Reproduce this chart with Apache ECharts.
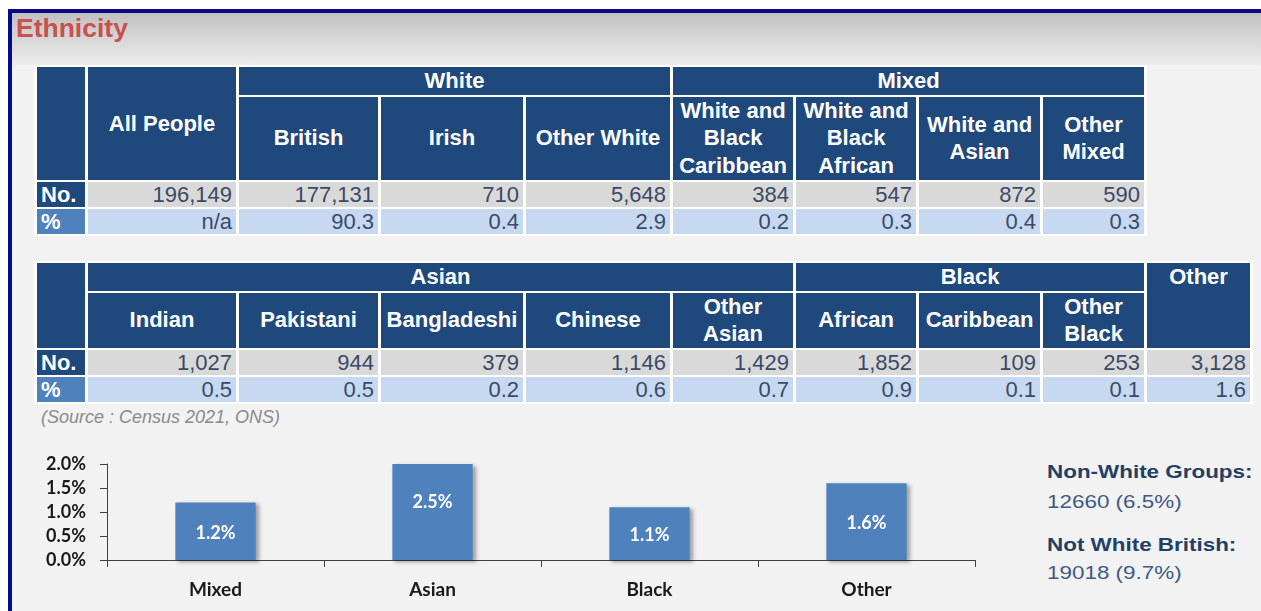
<!DOCTYPE html>
<html>
<head>
<meta charset="utf-8">
<script src="https://cdn.jsdelivr.net/npm/echarts@6/dist/echarts.min.js"></script>
<style>
html,body{margin:0;padding:0;width:1261px;height:611px;overflow:hidden;background:#fff;font-family:"Liberation Sans",Arial,sans-serif;}
#frame{position:absolute;left:8px;top:9px;width:1253px;height:602px;border-top:4px solid #0a0a88;border-left:4px solid #0a0a88;background:#f2f2f2;box-sizing:border-box;}
#header{position:absolute;left:12px;top:13px;width:1249px;height:52px;background:linear-gradient(#c1c1c1,#ededed);}
#title{position:absolute;left:16px;top:14px;font-size:26.5px;line-height:28px;font-weight:bold;color:#c9504d;}
table.t{position:absolute;left:34px;border-collapse:separate;border-spacing:3px 2px;background:#fff;table-layout:fixed;}
table.t th{background:#1f497d;color:#fff;font-weight:bold;font-size:22px;line-height:27.5px;padding:0;text-align:center;vertical-align:middle;overflow:hidden;}
table.t th.top{vertical-align:top;}
table.t td{font-size:22px;line-height:25px;padding:0 4px 0 0;text-align:right;color:#3a4a68;overflow:hidden;white-space:nowrap;}
table.t tr.no td{background:#d9d9d9;}
table.t tr.pc td{background:#c6d9f1;}
table.t td.lab{font-weight:bold;color:#fff;text-align:left;padding:0 0 0 4px;}
table.t tr.no td.lab{background:#1f497d;}
table.t tr.pc td.lab{background:#4f81bd;}
#source{position:absolute;left:41px;top:407px;font-size:18px;line-height:20px;font-style:italic;color:#8a8a8a;}
#chart{position:absolute;left:0;top:420px;width:1000px;height:191px;}
.note{position:absolute;left:1047px;font-size:19px;line-height:22px;transform:scaleX(1.18);transform-origin:left center;white-space:nowrap;}
.note.b{font-weight:bold;color:#243f66;}
.note.r{color:#3e5a86;}
</style>
</head>
<body>
<div id="frame"></div>
<div id="header"></div>
<div id="title">Ethnicity</div>
<table class="t" id="t1" style="top:65px"></table>
<table class="t" id="t2" style="top:261px"></table>
<div id="source">(Source : Census 2021, ONS)</div>
<div id="chart"></div>
<div id="notes"></div>
<script>
// ---------- data ----------
const allPeopleLabel = "All People";
const allPeopleCount = 196149;
const allPeoplePercent = "n/a";

const t1GroupNames = ["White", "Mixed"];
const t1GroupSpans = [3, 4];
const t1Categories = ["British", "Irish", "Other White", "White and Black Caribbean", "White and Black African", "White and Asian", "Other Mixed"];
const t1Counts = [177131, 710, 5648, 384, 547, 872, 590];
const t1Percents = [90.3, 0.4, 2.9, 0.2, 0.3, 0.4, 0.3];

const t2GroupNames = ["Asian", "Black", "Other"];
const t2GroupSpans = [5, 3, 1];
const t2Categories = ["Indian", "Pakistani", "Bangladeshi", "Chinese", "Other Asian", "African", "Caribbean", "Other Black", "Other"];
const t2Counts = [1027, 944, 379, 1146, 1429, 1852, 109, 253, 3128];
const t2Percents = [0.5, 0.5, 0.2, 0.6, 0.7, 0.9, 0.1, 0.1, 1.6];

const rowLabels = ["No.", "%"];

const chartCategories = ["Mixed", "Asian", "Black", "Other"];
const chartValues = [1.2, 2.5, 1.1, 1.6];
const yAxisMin = 0, yAxisMax = 2.0, yAxisStep = 0.5;

const summaryLabels = ["Non-White Groups:", "Not White British:"];
const summaryCounts = [12660, 19018];
const summaryPercents = [6.5, 9.7];

// ---------- layout (not data) ----------
const colWidths = [48, 148, 139, 142, 144, 120, 120, 121, 101, 103];
const t1RowHeights = [26, 83, 25, 25];
const t2RowHeights = [27, 53, 25, 25];
const noteTops = [[461, 491], [534, 562]];

const fmtCount = v => v.toLocaleString('en-US');
const fmtPct = v => (typeof v === 'number') ? v.toFixed(1) : v;

function colgroup(n) {
  let s = '<colgroup>';
  for (let i = 0; i < n; i++) s += '<col style="width:' + colWidths[i] + 'px">';
  return s + '</colgroup>';
}
function tableWidth(n) {
  let w = 0;
  for (let i = 0; i < n; i++) w += colWidths[i];
  return w + 3 * (n + 1);
}

// Table 1
(function () {
  const n = 2 + t1Categories.length;
  let h = colgroup(n);
  h += '<tr style="height:' + t1RowHeights[0] + 'px"><th rowspan="2"></th><th rowspan="2">' + allPeopleLabel + '</th>';
  t1GroupNames.forEach((g, i) => { h += '<th colspan="' + t1GroupSpans[i] + '">' + g + '</th>'; });
  h += '</tr><tr style="height:' + t1RowHeights[1] + 'px">';
  t1Categories.forEach(c => { h += '<th>' + c + '</th>'; });
  h += '</tr><tr class="no" style="height:' + t1RowHeights[2] + 'px"><td class="lab">' + rowLabels[0] + '</td><td>' + fmtCount(allPeopleCount) + '</td>';
  t1Counts.forEach(v => { h += '<td>' + fmtCount(v) + '</td>'; });
  h += '</tr><tr class="pc" style="height:' + t1RowHeights[3] + 'px"><td class="lab">' + rowLabels[1] + '</td><td>' + fmtPct(allPeoplePercent) + '</td>';
  t1Percents.forEach(v => { h += '<td>' + fmtPct(v) + '</td>'; });
  h += '</tr>';
  const t = document.getElementById('t1');
  t.innerHTML = h;
  t.style.width = tableWidth(n) + 'px';
})();

// Table 2
(function () {
  const n = 1 + t2Categories.length;
  let h = colgroup(n);
  h += '<tr style="height:' + t2RowHeights[0] + 'px"><th rowspan="2"></th>';
  let idx = 0;
  const standalone = new Set();
  t2GroupNames.forEach((g, i) => {
    const span = t2GroupSpans[i];
    if (span === 1 && t2Categories[idx] === g) {
      h += '<th rowspan="2" class="top">' + g + '</th>';
      standalone.add(idx);
    } else {
      h += '<th colspan="' + span + '">' + g + '</th>';
    }
    idx += span;
  });
  h += '</tr><tr style="height:' + t2RowHeights[1] + 'px">';
  t2Categories.forEach((c, i) => { if (!standalone.has(i)) h += '<th>' + c + '</th>'; });
  h += '</tr><tr class="no" style="height:' + t2RowHeights[2] + 'px"><td class="lab">' + rowLabels[0] + '</td>';
  t2Counts.forEach(v => { h += '<td>' + fmtCount(v) + '</td>'; });
  h += '</tr><tr class="pc" style="height:' + t2RowHeights[3] + 'px"><td class="lab">' + rowLabels[1] + '</td>';
  t2Percents.forEach(v => { h += '<td>' + fmtPct(v) + '</td>'; });
  h += '</tr>';
  const t = document.getElementById('t2');
  t.innerHTML = h;
  t.style.width = tableWidth(n) + 'px';
})();

// Notes
(function () {
  let h = '';
  summaryLabels.forEach((l, i) => {
    h += '<div class="note b" style="top:' + noteTops[i][0] + 'px">' + l + '</div>';
    h += '<div class="note r" style="top:' + noteTops[i][1] + 'px">' + summaryCounts[i] + ' (' + summaryPercents[i].toFixed(1) + '%)</div>';
  });
  document.getElementById('notes').innerHTML = h;
})();

// Chart
const chart = echarts.init(document.getElementById('chart'));
const pctFmt = v => Number(v).toFixed(1) + '%';
const fontFam = 'Lato, "Liberation Sans", sans-serif';
chart.setOption({
  animation: false,
  grid: { left: 107, top: 44, width: 868, height: 96 },
  xAxis: {
    type: 'category',
    data: chartCategories,
    axisLine: { show: true, lineStyle: { color: '#404040', width: 1 } },
    axisTick: { show: true, length: 7, lineStyle: { color: '#404040' } },
    axisLabel: { margin: 20, fontFamily: fontFam, fontWeight: 'bold', fontSize: 19, color: '#1a1a1a' }
  },
  yAxis: {
    type: 'value',
    min: yAxisMin, max: yAxisMax, interval: yAxisStep,
    axisLine: { show: true, lineStyle: { color: '#404040', width: 1 } },
    axisTick: { show: true, length: 7, lineStyle: { color: '#404040' } },
    splitLine: { show: false },
    axisLabel: { margin: 21, formatter: pctFmt, fontFamily: fontFam, fontWeight: 'bold', fontSize: 18, color: '#1a1a1a' }
  },
  series: [
    {
      type: 'bar', data: chartValues, barWidth: '37%', clip: true, silent: true,
      itemStyle: { color: '#4f81bd', shadowBlur: 4, shadowOffsetX: 3, shadowOffsetY: 2, shadowColor: 'rgba(0,0,0,0.35)' }
    },
    {
      type: 'bar', data: chartValues, barWidth: '37%', barGap: '-100%', clip: false, silent: true,
      itemStyle: { color: 'rgba(0,0,0,0)' },
      label: { show: true, position: 'inside', offset: [0, 2], formatter: p => pctFmt(p.value), color: '#ffffff', fontFamily: fontFam, fontWeight: 'bold', fontSize: 18 }
    }
  ]
});
</script>
</body>
</html>
